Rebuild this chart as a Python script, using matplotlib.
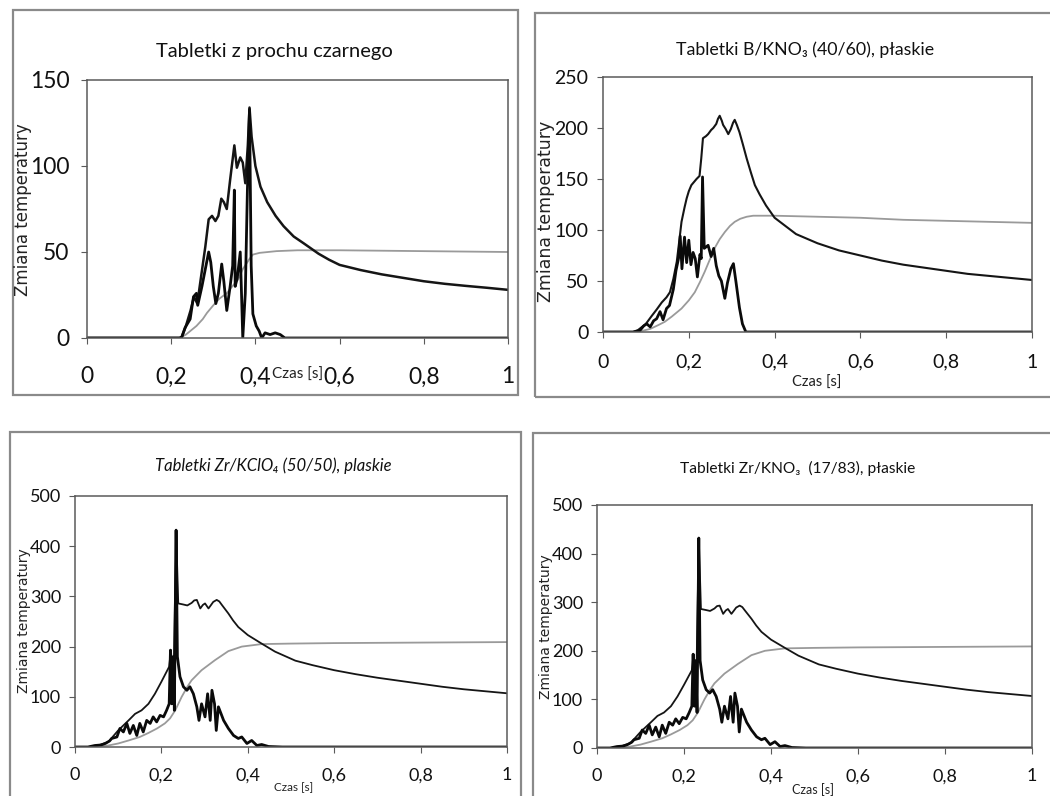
import matplotlib
matplotlib.use('Agg')
import matplotlib.pyplot as plt
from matplotlib.patches import Rectangle
from matplotlib.ticker import FuncFormatter

# ---- data ----
# panel 1: black powder
p1_noisy_t = [0, 0.22, 0.225, 0.233, 0.245, 0.253, 0.26, 0.263, 0.273, 0.281, 0.289, 0.294,
              0.3, 0.306, 0.312, 0.32, 0.325, 0.332, 0.34, 0.346, 0.35, 0.352, 0.357, 0.364,
              0.367, 0.37, 0.376, 0.381, 0.386, 0.39, 0.394, 0.402, 0.409, 0.415, 0.423,
              0.435, 0.447, 0.459, 0.47, 1.0]
p1_noisy_y = [0, 0, 0.5, 6, 11, 24, 26, 19, 30, 40, 50, 44,
              30, 20, 26, 43, 33, 16, 30, 42, 86, 30, 35, 50,
              26, 0, 26, 86, 133, 42, 14, 7, 4, 0, 3,
              2, 3, 2, 0, 0]
p1_env_t = [0, 0.22, 0.225, 0.235, 0.246, 0.254, 0.262, 0.27, 0.281, 0.289, 0.297, 0.305,
            0.312, 0.319, 0.325, 0.332, 0.34, 0.35, 0.356, 0.364, 0.37, 0.376, 0.382, 0.386,
            0.391, 0.4, 0.412, 0.428, 0.448, 0.467, 0.491, 0.515, 0.55, 0.575, 0.6, 0.65,
            0.7, 0.75, 0.8, 0.85, 0.9, 0.95, 1.0]
p1_env_y = [0, 0, 0.5, 7, 16, 24, 20, 34, 53, 69, 71, 68,
            71, 81, 79, 75, 92, 112, 99, 105, 102, 90, 112, 134,
            117, 100, 88, 79, 71, 65, 59, 55, 49, 45.5, 42.5, 39.5,
            37, 35, 33, 31.5, 30.3, 29.2, 28]
p1_gray_t = [0, 0.22, 0.235, 0.25, 0.26, 0.275, 0.285, 0.3, 0.315, 0.332, 0.345, 0.359,
             0.37, 0.378, 0.386, 0.394, 0.41, 0.45, 0.5, 0.6, 0.8, 1.0]
p1_gray_y = [0, 0, 2, 5, 7, 11, 14.6, 19, 23, 26, 30, 34,
             40, 43, 46, 48.5, 49.5, 50.5, 51, 51, 50.5, 50]

# panel 2: B/KNO3
p2_noisy_t = [0, 0.07, 0.085, 0.095, 0.102, 0.11, 0.118, 0.125, 0.133, 0.14, 0.148, 0.155,
              0.164, 0.17, 0.176, 0.18, 0.184, 0.19, 0.195, 0.2, 0.205, 0.21, 0.215, 0.22,
              0.226, 0.229, 0.232, 0.236, 0.245, 0.252, 0.258, 0.264, 0.27, 0.276, 0.284,
              0.29, 0.298, 0.304, 0.31, 0.318, 0.325, 0.333, 1.0]
p2_noisy_y = [0, 0, 1, 6, 8, 5, 11, 13, 20, 12, 23, 26,
              42, 60, 72, 94, 62, 93, 68, 90, 66, 78, 72, 54,
              76, 72, 152, 82, 85, 74, 82, 65, 55, 50, 33,
              48, 62, 67, 49, 24, 8, 0, 0]
p2_env_t = [0, 0.07, 0.082, 0.1, 0.114, 0.125, 0.137, 0.148, 0.156, 0.164, 0.172, 0.178,
            0.183, 0.19, 0.195, 0.2, 0.206, 0.212, 0.218, 0.225, 0.229, 0.233, 0.24, 0.245,
            0.252, 0.257, 0.264, 0.268, 0.272, 0.277, 0.28, 0.286, 0.292, 0.298, 0.303,
            0.307, 0.312, 0.318, 0.326, 0.335, 0.345, 0.354, 0.365, 0.38, 0.4, 0.45, 0.5,
            0.55, 0.6, 0.65, 0.7, 0.75, 0.8, 0.85, 0.9, 0.95, 1.0]
p2_env_y = [0, 0, 2, 8, 16, 22, 29, 34, 39, 52, 69, 90,
            108, 122, 131, 138, 144, 147, 150, 153, 170, 190, 192, 194,
            198, 200, 204, 209, 212, 207, 203, 199, 194, 199, 205,
            208, 203, 196, 184, 170, 156, 144, 135, 124, 112, 96, 87,
            80, 75, 70, 66, 63, 60, 57, 55, 53, 51]
p2_gray_t = [0, 0.07, 0.09, 0.11, 0.13, 0.144, 0.16, 0.183, 0.2, 0.214, 0.226, 0.237,
             0.25, 0.26, 0.272, 0.284, 0.296, 0.307, 0.32, 0.335, 0.35, 0.4, 0.5, 0.6,
             0.7, 0.8, 0.9, 1.0]
p2_gray_y = [0, 0, 1, 3, 7, 10, 15, 23, 31, 39, 49, 59,
             72, 82, 91, 98, 104, 108, 111, 113, 114, 114, 113, 112,
             110, 109, 108, 107]

# panels 3 and 4: Zr/KClO4 and Zr/KNO3 (the two scans show the same traces)
zr_noisy_t = [0, 0.03, 0.046, 0.06, 0.07, 0.08, 0.085, 0.097, 0.104, 0.112, 0.12, 0.127,
              0.135, 0.143, 0.15, 0.158, 0.166, 0.174, 0.181, 0.189, 0.197, 0.205, 0.212,
              0.218, 0.221, 0.224, 0.227, 0.23, 0.234, 0.237, 0.243, 0.251, 0.259, 0.266,
              0.274, 0.282, 0.287, 0.293, 0.301, 0.307, 0.313, 0.317, 0.323, 0.327, 0.332,
              0.344, 0.355, 0.367, 0.378, 0.386, 0.398, 0.409, 0.421, 0.432, 0.448, 0.48, 1.0]
zr_noisy_y = [0, 0, 3, 4, 7, 12, 17, 20, 37, 30, 47, 27,
              43, 23, 47, 30, 53, 47, 60, 50, 63, 60, 73,
              86, 193, 86, 180, 73, 432, 180, 140, 120, 113, 120,
              106, 80, 53, 86, 60, 106, 53, 113, 86, 33, 80,
              53, 37, 23, 17, 20, 7, 13, 3, 5, 1, 0, 0]
zr_env_t = [0, 0.03, 0.05, 0.077, 0.1, 0.124, 0.139, 0.154, 0.17, 0.185, 0.2, 0.212,
            0.218, 0.222, 0.228, 0.234, 0.239, 0.25, 0.26, 0.27, 0.276, 0.282, 0.29, 0.296,
            0.301, 0.309, 0.315, 0.32, 0.328, 0.334, 0.34, 0.355, 0.366, 0.378, 0.4, 0.432,
            0.463, 0.51, 0.55, 0.6, 0.65, 0.7, 0.75, 0.8, 0.85, 0.9, 0.95, 1.0]
zr_env_y = [0, 0, 2, 10, 33, 53, 66, 73, 86, 106, 130, 150,
            160, 193, 120, 432, 286, 284, 282, 287, 292, 293, 276, 283,
            286, 276, 283, 289, 293, 290, 283, 266, 252, 239, 223, 206,
            190, 172, 163, 153, 145, 138, 132, 126, 120, 115, 111, 107]
zr_gray_t = [0, 0.03, 0.05, 0.077, 0.1, 0.124, 0.15, 0.17, 0.19, 0.208, 0.22, 0.232,
             0.247, 0.26, 0.27, 0.293, 0.324, 0.355, 0.386, 0.432, 0.5, 0.6, 0.7, 0.8,
             0.9, 1.0]
zr_gray_y = [0, 0, 1, 3, 7, 13, 20, 28, 37, 47, 57, 73,
             100, 120, 133, 153, 173, 191, 200, 205, 206, 207, 207.5, 208,
             208.5, 209]

x_ticks = [0, 0.2, 0.4, 0.6, 0.8, 1]

W, H = 1050, 796
NARROW = ['Lato', 'DejaVu Sans']
WIDE = ['DejaVu Sans']
GRAY = '#9a9a9a'
SPINE = '#5a5a5a'


def fx(px):
    return px / W


def fy(py):
    return 1 - py / H


def comma(v, pos):
    return ('%g' % v).replace('.', ',')


panels = [
    dict(ax=(87, 80, 508, 338), frame=(13, 10, 518, 395),
         title='Tabletki z prochu czarnego', tpos=(274, 52), tsize=14.5, tstyle='normal',
         ylabel='Zmiana temperatury', ypos=(23, 210), ysize=12,
         xpos=(298, 375), xsize=11, ticksize=16.5, xpad=16.5, ypad=8.5,
         ymax=150, ystep=50, lw_env=1.8,
         data=(p1_noisy_t, p1_noisy_y, p1_env_t, p1_env_y, p1_gray_t, p1_gray_y)),
    dict(ax=(603, 77, 1032, 332), frame=(535, 13, 1056, 397),
         title='Tabletki B/KNO₃ (40/60), płaskie', tpos=(805, 50), tsize=12.8, tstyle='normal',
         ylabel='Zmiana temperatury', ypos=(546, 211), ysize=12.5,
         xpos=(817, 383), xsize=10.5, ticksize=14, xpad=11.5, ypad=6.5,
         ymax=250, ystep=50, lw_env=1.5,
         data=(p2_noisy_t, p2_noisy_y, p2_env_t, p2_env_y, p2_gray_t, p2_gray_y)),
    dict(ax=(75, 496, 507, 747), frame=(10, 432, 521, 804),
         title='Tabletki Zr/KClO₄ (50/50), plaskie', tpos=(273, 466), tsize=12, tstyle='italic',
         ylabel='Zmiana temperatury', ypos=(24, 621), ysize=10,
         xpos=(294, 788), xsize=8.5, ticksize=13, xpad=10.5, ypad=6,
         ymax=500, ystep=100, lw_env=1.3,
         data=(zr_noisy_t, zr_noisy_y, zr_env_t, zr_env_y, zr_gray_t, zr_gray_y)),
    dict(ax=(597, 505, 1032, 748), frame=(533, 433, 1056, 804),
         title='Tabletki Zr/KNO₃  (17/83), płaskie', tpos=(798, 468), tsize=11.2, tstyle='normal',
         ylabel='Zmiana temperatury', ypos=(546, 627), ysize=10,
         xpos=(813, 790), xsize=9, ticksize=13, xpad=10.5, ypad=6,
         ymax=500, ystep=100, lw_env=1.3,
         data=(zr_noisy_t, zr_noisy_y, zr_env_t, zr_env_y, zr_gray_t, zr_gray_y)),
]

fig = plt.figure(figsize=(W / 100, H / 100), dpi=100)
fig.patch.set_facecolor('white')

for p in panels:
    # outer chart frame
    x0, y0, x1, y1 = p['frame']
    fig.add_artist(Rectangle((fx(x0), fy(y1)), fx(x1 - x0), (y1 - y0) / H,
                             transform=fig.transFigure, fill=False,
                             edgecolor='#8a8a8a', lw=1.6, clip_on=False))

    x0, y0, x1, y1 = p['ax']
    ax = fig.add_axes([fx(x0), fy(y1), fx(x1 - x0), (y1 - y0) / H])
    nt, ny, et, ey, gt, gy = p['data']
    ax.plot(gt, gy, color=GRAY, lw=1.3)
    ax.plot(et, ey, color='#151515', lw=p['lw_env'])
    ax.plot(nt, ny, color='#0a0a0a', lw=2.0)

    ax.set_xlim(0, 1)
    ax.set_ylim(0, p['ymax'])
    ax.set_xticks(x_ticks)
    ax.set_yticks(list(range(0, p['ymax'] + 1, p['ystep'])))
    ax.xaxis.set_major_formatter(FuncFormatter(comma))
    ax.tick_params(axis='both', direction='out', length=4, color=SPINE,
                   labelsize=p['ticksize'], labelcolor='#111111')
    ax.tick_params(axis='x', pad=p['xpad'])
    ax.tick_params(axis='y', pad=p['ypad'])
    for lab in ax.get_xticklabels() + ax.get_yticklabels():
        lab.set_family(NARROW)
    for s in ax.spines.values():
        s.set_color(SPINE)
        s.set_linewidth(1.1)

    fig.text(fx(p['tpos'][0]), fy(p['tpos'][1]), p['title'], family=NARROW,
             fontsize=p['tsize'], style=p['tstyle'], ha='center', va='center', color='#111111')
    fig.text(fx(p['ypos'][0]), fy(p['ypos'][1]), p['ylabel'], family=WIDE,
             fontsize=p['ysize'], rotation=90, ha='center', va='center', color='#222222')
    fig.text(fx(p['xpos'][0]), fy(p['xpos'][1]), 'Czas [s]', family=NARROW,
             fontsize=p['xsize'], ha='center', va='center', color='#222222')

fig.savefig('out.png', dpi=100)
